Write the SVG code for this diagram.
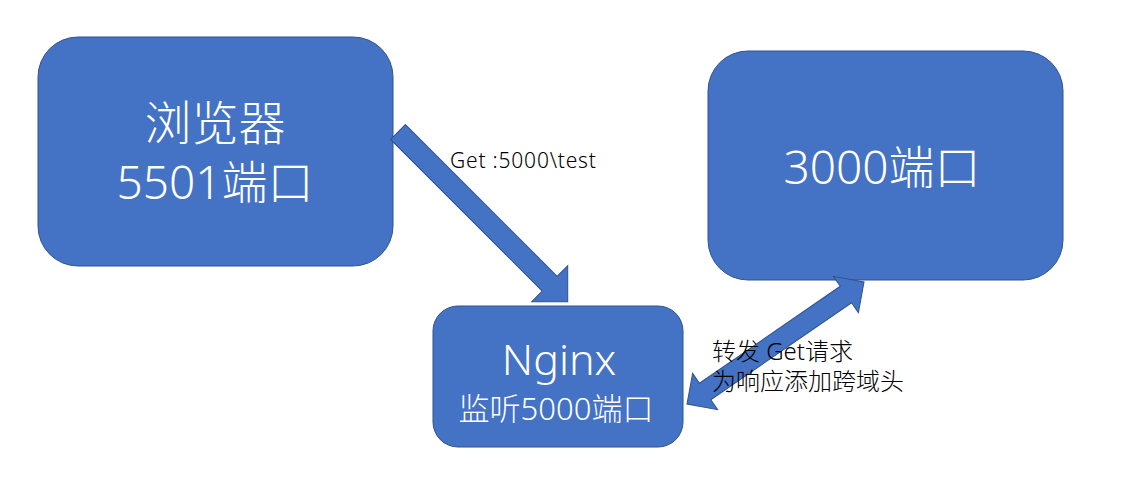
<svg xmlns="http://www.w3.org/2000/svg" width="1122" height="484" viewBox="0 0 1122 484">
  <style>
    .box { fill: #4472C4; stroke: #2F528F; stroke-width: 1; }
    .arrow { fill: #4472C4; stroke: #2F528F; stroke-width: 1; }
    .wt { fill: #FFFFFF; font-family: "Noto Sans", "Noto Sans CJK SC", sans-serif; font-weight: 300; text-anchor: middle; }
    .lbl { fill: #000000; font-family: "Noto Sans", "Noto Sans CJK SC", sans-serif; font-weight: 300; }
  </style>
  <rect width="1122" height="484" fill="#FFFFFF"/>

  <g id="node-browser">
    <rect class="box" x="38" y="37" width="355" height="229" rx="40" ry="40"/>
    <text class="wt" x="215" y="140" font-size="47">浏览器</text>
    <text class="wt" x="215" y="199" font-size="46">5501端口</text>
  </g>

  <g id="node-3000">
    <rect class="box" x="708" y="51" width="355" height="229" rx="40" ry="40"/>
    <text class="wt" x="882" y="184" font-size="46">3000端口</text>
  </g>

  <g id="node-nginx">
    <rect class="box" x="433" y="306" width="250" height="141" rx="25" ry="25"/>
    <text class="wt" x="559" y="375" font-size="43">Nginx</text>
    <text class="wt" x="556" y="420" font-size="31">监听5000端口</text>
  </g>

  <g id="connectors">
    <polygon class="arrow" transform="translate(398,132) rotate(45)"
      points="0,-10.5 214.5,-10.5 214.5,-25.5 240,0 214.5,25.5 214.5,10.5 0,10.5"/>
    <polygon class="arrow" transform="translate(687,404) rotate(-34.57)"
      points="0,0 22,-22 22,-10 193,-10 193,-22 215,0 193,22 193,10 22,10 22,22"/>
    <text class="lbl" x="450" y="168" font-size="21" letter-spacing="0.8">Get :5000\test</text>
    <text class="lbl" x="712" y="360" font-size="24">转发 Get请求</text>
    <text class="lbl" x="712" y="390" font-size="24">为响应添加跨域头</text>
  </g>
</svg>
